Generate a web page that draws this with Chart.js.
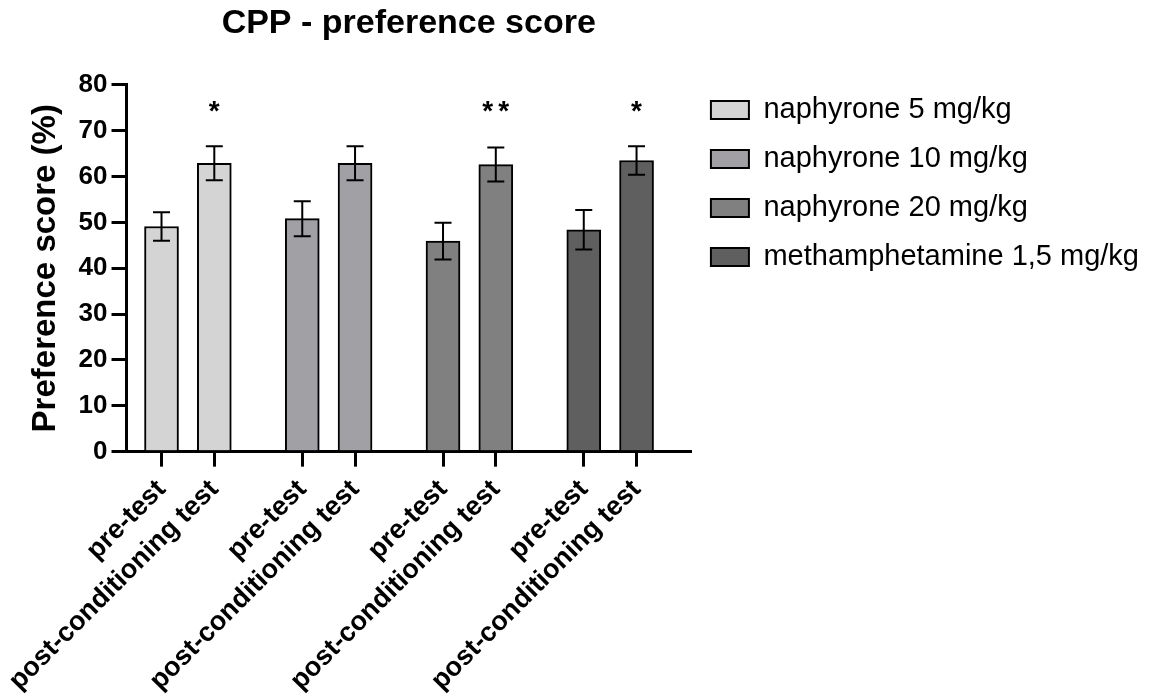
<!DOCTYPE html>
<html>
<head>
<meta charset="utf-8">
<script src="https://cdn.jsdelivr.net/npm/chart.js@4.4.1/dist/chart.umd.min.js"></script>
<style>
  html, body { margin: 0; padding: 0; background: #fff; }
</style>
</head>
<body>
<canvas id="cppChart" width="1149" height="698"></canvas>
<script>
// treatment groups (one shade each) and the two tests inside every group
const groups = ["naphyrone 5 mg/kg", "naphyrone 10 mg/kg", "naphyrone 20 mg/kg", "methamphetamine 1,5 mg/kg"];
const phases = ["pre-test", "post-conditioning test"];

// mean preference score (%)
const preTest = [49.1, 50.8, 45.9, 48.4];
const postTest = [62.9, 62.9, 62.6, 63.5];

// error bars (+/-)
const preErr = [3.1, 3.8, 4.0, 4.3];
const postErr = [3.7, 3.7, 3.7, 3.1];

// significance marks above the post-conditioning bars
const postSig = ["*", "", "**", "*"];

const yTicks = [0, 10, 20, 30, 40, 50, 60, 70, 80];

const fills = ["#d4d4d4", "#a1a1a5", "#808080", "#5f5f5f"];
const FONT = "'Liberation Sans', Arial, Helvetica, sans-serif";

// bars sit on a linear x axis so the gap between groups can be wider than inside a group
const groupStep = 8 / 3;
const xOf = (g, p) => g * groupStep + p;

const errorBars = {
  id: "errorBars",
  afterDatasetsDraw(chart, args, opts) {
    const ctx = chart.ctx;
    const yScale = chart.scales.y;
    ctx.save();
    ctx.strokeStyle = "#000";
    ctx.lineWidth = 2;
    ctx.fillStyle = "#000";
    ctx.font = "bold 28px " + FONT;
    ctx.textAlign = "center";
    ctx.textBaseline = "alphabetic";
    chart.data.datasets.forEach((ds, i) => {
      chart.getDatasetMeta(i).data.forEach((bar, j) => {
        const v = ds.data[j].y;
        const e = ds.err[j];
        const top = yScale.getPixelForValue(v + e);
        const bot = yScale.getPixelForValue(v - e);
        const cap = 8.5;
        ctx.beginPath();
        ctx.moveTo(bar.x, top);
        ctx.lineTo(bar.x, bot);
        ctx.moveTo(bar.x - cap, top);
        ctx.lineTo(bar.x + cap, top);
        ctx.moveTo(bar.x - cap, bot);
        ctx.lineTo(bar.x + cap, bot);
        ctx.stroke();
        // stars are spaced a little wider than the font does by itself
        const stars = ds.sig[j];
        const sy = yScale.getPixelForValue(opts.sigLevel) + 15;
        for (let k = 0; k < stars.length; k++) {
          ctx.fillText("*", bar.x + (k - (stars.length - 1) / 2) * 16, sy);
        }
      });
    });
    ctx.restore();
  }
};

const datasets = groups.map((name, i) => ({
  label: name,
  data: [
    { x: xOf(i, 0), y: preTest[i] },
    { x: xOf(i, 1), y: postTest[i] }
  ],
  err: [preErr[i], postErr[i]],
  sig: ["", postSig[i]],
  backgroundColor: fills[i],
  borderColor: "#000",
  borderWidth: 2,
  barThickness: 34,
  grouped: false
}));

const ctx = document.getElementById("cppChart");
new Chart(ctx, {
  type: "bar",
  data: { datasets: datasets },
  plugins: [errorBars],
  options: {
    responsive: false,
    animation: false,
    devicePixelRatio: 1,
    layout: { padding: { left: 16, right: 0, top: 0, bottom: -6 } },
    plugins: {
      tooltip: { enabled: false },
      errorBars: { sigLevel: 75.6 },
      title: {
        display: true,
        text: "CPP - preference score",
        fullSize: false,
        color: "#000",
        font: { family: FONT, size: 34, weight: "bold" },
        padding: { top: 3, bottom: 41 }
      },
      legend: {
        position: "right",
        align: "start",
        maxWidth: 480,
        title: { display: true, text: "", font: { size: 12 }, padding: { top: 61, bottom: 0 } },
        labels: {
          color: "#000",
          boxWidth: 38,
          boxHeight: 18,
          padding: 20,
          font: { family: FONT, size: 29 }
        }
      }
    },
    scales: {
      x: {
        type: "linear",
        min: -0.663,
        max: 10.03,
        offset: false,
        grid: { drawOnChartArea: false, offset: false, color: "#000", lineWidth: 3, tickLength: 15 },
        border: { display: true, color: "#000", width: 3 },
        afterBuildTicks: (scale) => {
          scale.ticks = groups.flatMap((g, i) => phases.map((p, j) => ({ value: xOf(i, j) })));
        },
        ticks: {
          autoSkip: false,
          maxRotation: 45,
          minRotation: 45,
          padding: 7,
          color: "#000",
          font: { family: FONT, size: 27, weight: "bold" },
          callback: (value, index) => phases[index % phases.length]
        }
      },
      y: {
        min: 0,
        max: 80,
        afterBuildTicks: (scale) => {
          scale.ticks = yTicks.map((v) => ({ value: v }));
        },
        grid: { drawOnChartArea: false, color: "#000", lineWidth: 3, tickLength: 15 },
        border: { display: true, color: "#000", width: 3 },
        ticks: {
          padding: 4,
          color: "#000",
          font: { family: FONT, size: 26, weight: "bold" }
        },
        title: {
          display: true,
          text: "Preference score (%)",
          color: "#000",
          font: { family: FONT, size: 33, weight: "bold" },
          padding: { top: 10, bottom: 9 }
        }
      }
    }
  }
});
</script>
</body>
</html>
